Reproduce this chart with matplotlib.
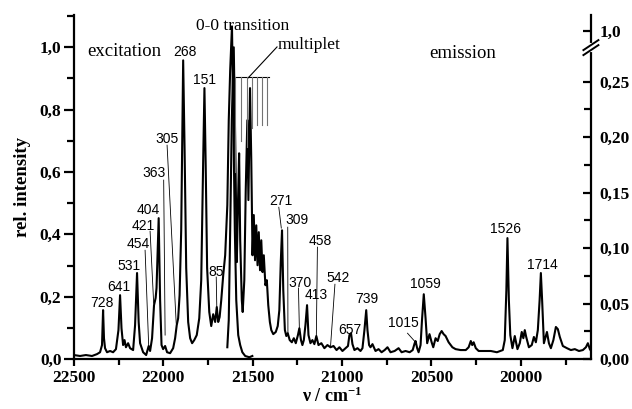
import numpy as np
import matplotlib
matplotlib.use('Agg')
from matplotlib import pyplot as plt
from matplotlib.ticker import MultipleLocator, FixedLocator, FuncFormatter
import matplotlib.transforms as mtransforms

plt.rcParams['font.family'] = 'serif'
plt.rcParams['font.serif'] = ['Liberation Serif', 'DejaVu Serif']
plt.rcParams['mathtext.fontset'] = 'custom'
plt.rcParams['mathtext.rm'] = 'Liberation Serif:bold'
plt.rcParams['mathtext.bf'] = 'Liberation Serif:bold'
plt.rcParams['mathtext.default'] = 'bf'

# excitation spectrum (wavenumber / rel. intensity)
exc_nu = [22500, 22466, 22433, 22399, 22371, 22354, 22343, 22337, 22332, 22326,
          22315, 22298, 22281, 22265, 22251, 22242, 22234, 22225, 22217, 22209,
          22197, 22186, 22169, 22158, 22147, 22138, 22130, 22113, 22096, 22082,
          22074, 22063, 22052, 22043, 22038, 22026, 22018, 22010, 22001, 21990,
          21979, 21962, 21945, 21934, 21925, 21917, 21909, 21900, 21889, 21881,
          21872, 21861, 21850, 21839, 21827, 21813, 21799, 21788, 21777, 21770,
          21763, 21755, 21743, 21732, 21721, 21710, 21701, 21693, 21685, 21676,
          21665, 21654, 21642, 21634, 21626, 21616, 21609, 21600, 21592, 21581,
          21570, 21558, 21542, 21519, 21502]
exc_int = [0.013, 0.010, 0.013, 0.010, 0.016, 0.022, 0.045, 0.157, 0.067, 0.035,
           0.022, 0.026, 0.022, 0.032, 0.093, 0.205, 0.099, 0.045, 0.061, 0.038,
           0.051, 0.035, 0.029, 0.109, 0.276, 0.119, 0.051, 0.022, 0.013, 0.042,
           0.026, 0.067, 0.173, 0.196, 0.228, 0.452, 0.189, 0.045, 0.032, 0.042,
           0.022, 0.019, 0.035, 0.067, 0.109, 0.131, 0.205, 0.413, 0.958, 0.670,
           0.292, 0.119, 0.067, 0.051, 0.061, 0.077, 0.131, 0.253, 0.638, 0.869,
           0.622, 0.292, 0.151, 0.106, 0.144, 0.119, 0.167, 0.119, 0.135, 0.189,
           0.269, 0.333, 0.494, 0.766, 0.926, 1.067, 0.798, 0.413, 0.189, 0.077,
           0.045, 0.022, 0.010, 0.006, 0.010]

# emission spectrum (in left-axis units)
emi_nu = [21642, 21634, 21626, 21617, 21606, 21598, 21589, 21582, 21576, 21570,
          21561, 21556, 21547, 21539, 21530, 21524, 21515, 21508, 21501, 21494,
          21487, 21480, 21473, 21466, 21459, 21452, 21445, 21438, 21429, 21421,
          21413, 21404, 21396, 21385, 21371, 21360, 21351, 21343, 21336, 21329,
          21320, 21312, 21304, 21293, 21281, 21270, 21259, 21247, 21239, 21230,
          21222, 21214, 21205, 21196, 21188, 21177, 21166, 21155, 21144, 21132,
          21116, 21099, 21082, 21065, 21048, 21031, 21015, 20998, 20981, 20967,
          20959, 20950, 20942, 20931, 20914, 20897, 20886, 20875, 20865, 20858,
          20849, 20841, 20830, 20813, 20796, 20779, 20762, 20746, 20729, 20706,
          20684, 20667, 20645, 20622, 20605, 20594, 20589, 20580, 20572, 20561,
          20553, 20543, 20533, 20524, 20511, 20499, 20490, 20477, 20465, 20454,
          20443, 20432, 20421, 20404, 20383, 20365, 20337, 20308, 20292, 20280,
          20272, 20264, 20252, 20236, 20202, 20168, 20134, 20101, 20090, 20081,
          20075, 20067, 20059, 20047, 20034, 20019, 20006, 19995, 19986, 19978,
          19970, 19955, 19939, 19927, 19916, 19905, 19895, 19888, 19881, 19871,
          19854, 19843, 19832, 19818, 19804, 19793, 19782, 19765, 19742, 19720,
          19698, 19675, 19653, 19636, 19625, 19614, 19602]
emi_int = [0.038, 0.125, 0.413, 0.766, 1.000, 0.702, 0.311, 0.510, 0.660, 0.381,
           0.189, 0.151, 0.253, 0.542, 0.766, 0.510, 0.869, 0.638, 0.333, 0.462,
           0.317, 0.429, 0.301, 0.407, 0.285, 0.381, 0.279, 0.333, 0.237, 0.253,
           0.173, 0.119, 0.093, 0.080, 0.087, 0.106, 0.157, 0.311, 0.413, 0.221,
           0.093, 0.074, 0.083, 0.061, 0.054, 0.067, 0.051, 0.077, 0.099, 0.061,
           0.045, 0.061, 0.109, 0.173, 0.077, 0.051, 0.061, 0.048, 0.074, 0.045,
           0.051, 0.035, 0.045, 0.038, 0.042, 0.029, 0.038, 0.026, 0.035, 0.042,
           0.077, 0.083, 0.048, 0.029, 0.035, 0.026, 0.035, 0.093, 0.157, 0.093,
           0.045, 0.038, 0.048, 0.026, 0.032, 0.022, 0.029, 0.038, 0.022, 0.026,
           0.035, 0.022, 0.026, 0.022, 0.029, 0.051, 0.058, 0.035, 0.022, 0.045,
           0.125, 0.208, 0.131, 0.051, 0.080, 0.054, 0.038, 0.067, 0.058, 0.080,
           0.090, 0.080, 0.074, 0.054, 0.038, 0.032, 0.029, 0.029, 0.038, 0.058,
           0.045, 0.054, 0.035, 0.026, 0.026, 0.026, 0.022, 0.029, 0.061, 0.221,
           0.388, 0.189, 0.077, 0.035, 0.074, 0.032, 0.051, 0.087, 0.067, 0.093,
           0.071, 0.038, 0.045, 0.071, 0.054, 0.093, 0.189, 0.276, 0.189, 0.051,
           0.087, 0.051, 0.035, 0.061, 0.103, 0.096, 0.071, 0.042, 0.035, 0.029,
           0.032, 0.026, 0.029, 0.038, 0.051, 0.032, 0.022]

# peak labels (text, position)
pk_text = ['728', '641', '531', '454', '421', '404', '363', '305', '268', '151', '85',
           '271', '309', '370', '413', '458', '542', '657', '739', '1015', '1059',
           '1526', '1714']
pk_nu = [22343, 22251, 22193, 22143, 22113, 22085, 22052, 21979, 21878, 21771, 21704,
         21340, 21250, 21233, 21144, 21121, 21020, 20959, 20863, 20656, 20533,
         20084, 19877]
pk_y = [0.179, 0.231, 0.300, 0.369, 0.426, 0.478, 0.596, 0.705, 0.984, 0.894, 0.279,
        0.506, 0.446, 0.244, 0.205, 0.378, 0.260, 0.093, 0.192, 0.115, 0.240,
        0.417, 0.301]

# leader lines: (nu0, y0, nu1, y1)
leaders = [(22074, 0.410, 22054, 0.179),
           (22102, 0.349, 22082, 0.045),
           (21998, 0.574, 21990, 0.077),
           (21979, 0.686, 21928, 0.115),
           (21704, 0.263, 21701, 0.170),
           (21354, 0.487, 21340, 0.420),
           (21304, 0.423, 21303, 0.083),
           (21244, 0.228, 21239, 0.099),
           (21138, 0.359, 21144, 0.074),
           (21040, 0.240, 21065, 0.038),
           (20634, 0.083, 20589, 0.054)]

# multiplet comb
comb_nu = [21598, 21566, 21532, 21502, 21476, 21448, 21420]
comb_bottom = [0.60, 0.70, 0.68, 0.74, 0.75, 0.75, 0.75]
comb_top = 0.905
comb_left, comb_right = 21607, 21411

fig = plt.figure(figsize=(6.32, 4.09), dpi=100, facecolor='w')
ax = fig.add_axes([0.117, 0.122, 0.818, 0.841])
ax2 = ax.twinx()

ax.plot(exc_nu, exc_int, color='black', lw=1.5, zorder=3)
ax.plot(emi_nu, emi_int, color='black', lw=1.5, zorder=3)

ax.set_xlim(22500, 19608)
ax.set_ylim(0, 1.103)
ax2.set_ylim(0, 0.31)

# multiplet comb
ax.plot([comb_left, comb_right], [comb_top, comb_top], color='black', lw=0.8, zorder=4)
for n, b in zip(comb_nu, comb_bottom):
    ax.plot([n, n], [b, comb_top], color='0.45', lw=0.8, zorder=4)
ax.plot([21525, 21364], [0.902, 1.001], color='black', lw=0.8)

for t, n, y in zip(pk_text, pk_nu, pk_y):
    ax.text(n, y, t, ha='center', va='center', fontsize=10, family='Liberation Sans', zorder=6)
for n0, y0, n1, y1 in leaders:
    ax.plot([n0, n1], [y0, y1], color='black', lw=0.6, zorder=5)

ax.text(22220, 0.985, 'excitation', ha='center', va='center', fontsize=13.5)
ax.text(20328, 0.981, 'emission', ha='center', va='center', fontsize=13.5)
ax.text(21558, 1.067, '0-0 transition', ha='center', va='center', fontsize=12.5)
ax.text(21359, 1.008, 'multiplet', ha='left', va='center', fontsize=12.5)

# spines
for a in (ax, ax2):
    a.spines['top'].set_visible(False)
    for s in a.spines.values():
        s.set_linewidth(1.6)
ax.spines['right'].set_visible(False)
ax2.spines['left'].set_visible(False)
ax2.spines['bottom'].set_visible(False)

comma1 = FuncFormatter(lambda v, p: ('%.1f' % v).replace('.', ','))
ax.xaxis.set_major_locator(FixedLocator([22500, 22000, 21500, 21000, 20500, 20000]))
ax.xaxis.set_minor_locator(MultipleLocator(250))
ax.yaxis.set_major_locator(FixedLocator([0, 0.2, 0.4, 0.6, 0.8, 1.0]))
ax.yaxis.set_minor_locator(MultipleLocator(0.1))
ax.yaxis.set_major_formatter(comma1)
ax.tick_params(axis='x', which='major', direction='out', length=5, width=1.6,
               labelsize=12.5, pad=3, top=False)
ax.tick_params(axis='x', which='minor', direction='out', length=4, width=1.6, top=False)
ax.tick_params(axis='y', which='major', direction='out', length=7, width=1.6,
               labelsize=12.5, pad=2, right=False)
ax.tick_params(axis='y', which='minor', direction='out', length=5, width=1.6, right=False)
for lbl in ax.get_xticklabels() + ax.get_yticklabels():
    lbl.set_fontweight('bold')

r_ticks = [0, 0.05, 0.10, 0.15, 0.20, 0.25, 0.2958]
r_labels = ['0,00', '0,05', '0,10', '0,15', '0,20', '0,25', '1,0']
ax2.yaxis.set_major_locator(FixedLocator(r_ticks))
ax2.set_yticklabels(r_labels, fontweight='bold')
ax2.yaxis.set_minor_locator(FixedLocator([0.025, 0.075, 0.125, 0.175, 0.225]))
ax2.tick_params(axis='y', which='major', direction='in', length=6, width=1.6,
                labelsize=12.5, pad=6)
ax2.tick_params(axis='y', which='minor', direction='in', length=5, width=1.6)

# axis break on the right
trans = mtransforms.blended_transform_factory(ax2.transAxes, ax2.transData)
ax2.plot([1, 1], [0.2785, 0.2830], color='white', lw=3, transform=trans, clip_on=False, zorder=10)
ax2.plot([0.9855, 1.0145], [0.2740, 0.2830], color='black', lw=1.4, transform=trans, clip_on=False, zorder=11)
ax2.plot([0.9855, 1.0145], [0.2785, 0.2875], color='black', lw=1.4, transform=trans, clip_on=False, zorder=11)

ax.set_ylabel('rel. intensity', fontsize=13.5, fontweight='bold', labelpad=6)
ax.set_xlabel('ν / cm$^{-1}$', fontsize=13, fontweight='bold', labelpad=0)

fig.savefig('out.png', dpi=100)
